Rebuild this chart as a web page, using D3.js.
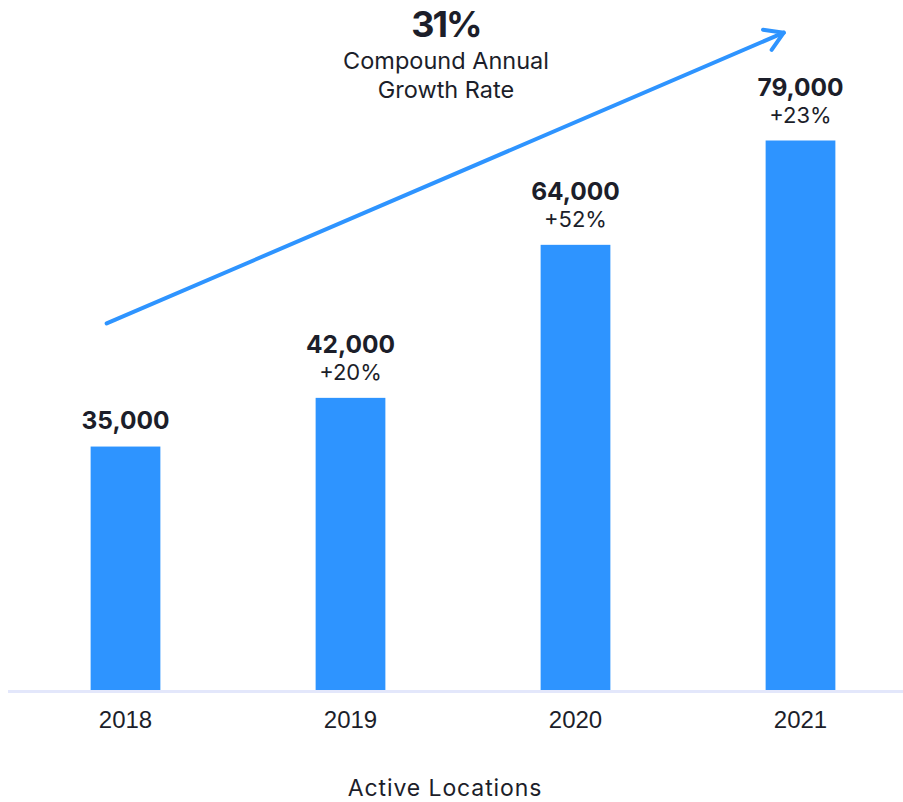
<!DOCTYPE html>
<html>
<head>
<meta charset="utf-8">
<script src="https://cdn.jsdelivr.net/npm/d3@7/dist/d3.min.js"></script>
<style>
  html, body { margin: 0; padding: 0; background: #ffffff; }
  svg { display: block; font-family: Inter, "Noto Sans", sans-serif; }
</style>
</head>
<body>
<svg id="chart" width="903" height="802"></svg>
<script>
// Active locations per year
const years = ["2018", "2019", "2020", "2021"];
const locations = [35000, 42000, 64000, 79000];
const growthLabels = ["", "+20%", "+52%", "+23%"];

// Headline annotation
const cagrValue = "31%";
const cagrCaption = ["Compound Annual", "Growth Rate"];
const axisTitle = "Active Locations";

// Trend arrow anchors, in data space (band, fraction across band, value)
const arrowFrom = { year: "2018", frac: 0.23, value: 52700 };
const arrowTo = { year: "2021", frac: 0.26, value: 94500 };

const W = 903, H = 802;
const baseY = 690;
const barColor = "#2e94ff";
const textColor = "#1c1e2a";

const svg = d3.select("#chart");

const x = d3.scaleBand()
  .domain(years)
  .range([13, 913])
  .paddingInner(0.69)
  .paddingOuter(0.345);

const y = d3.scaleLinear()
  .domain([0, 79000])
  .range([baseY, 140.5]);

const data = years.map((yr, i) => ({ year: yr, value: locations[i], growth: growthLabels[i] }));

// Bars
svg.append("g")
  .selectAll("rect")
  .data(data)
  .join("rect")
  .attr("x", d => x(d.year))
  .attr("y", d => y(d.value))
  .attr("width", x.bandwidth())
  .attr("height", d => y(0) - y(d.value))
  .attr("fill", barColor);

// Baseline
svg.append("line")
  .attr("x1", 8).attr("x2", W)
  .attr("y1", baseY + 1.5).attr("y2", baseY + 1.5)
  .attr("stroke", "#e3e7fb")
  .attr("stroke-width", 3);

// Year axis
const xAxis = d3.axisBottom(x).tickSize(0).tickPadding(0);
const gx = svg.append("g")
  .attr("transform", `translate(0,${baseY})`)
  .call(xAxis);
gx.select(".domain").remove();
gx.selectAll("text")
  .attr("y", 38)
  .attr("dy", 0)
  .attr("fill", textColor)
  .style("font-family", "'Liberation Sans', Arial, sans-serif")
  .style("font-size", "24px");

// Value labels
const labels = svg.append("g").attr("text-anchor", "middle").attr("fill", textColor);
labels.selectAll("text.value")
  .data(data)
  .join("text")
  .attr("class", "value")
  .attr("x", d => x(d.year) + x.bandwidth() / 2)
  .attr("y", d => y(d.value) - (d.growth ? 45 : 18))
  .style("font-size", "24.5px")
  .style("font-weight", 700)
  .text(d => d3.format(",")(d.value));

labels.selectAll("text.growth")
  .data(data.filter(d => d.growth))
  .join("text")
  .attr("class", "growth")
  .attr("x", d => x(d.year) + x.bandwidth() / 2)
  .attr("y", d => y(d.value) - 18)
  .style("font-size", "22px")
  .text(d => d.growth);

// Trend arrow
const ax0 = x(arrowFrom.year) + x.bandwidth() * arrowFrom.frac;
const ay0 = y(arrowFrom.value);
const ax1 = x(arrowTo.year) + x.bandwidth() * arrowTo.frac;
const ay1 = y(arrowTo.value);
const ang = Math.atan2(ay1 - ay0, ax1 - ax0);
const head = 21, spread = 0.55;
const arrow = svg.append("g")
  .attr("fill", "none")
  .attr("stroke", barColor)
  .attr("stroke-width", 4)
  .attr("stroke-linecap", "round")
  .attr("stroke-linejoin", "round");
arrow.append("line")
  .attr("x1", ax0).attr("y1", ay0)
  .attr("x2", ax1).attr("y2", ay1);
arrow.append("path")
  .attr("d", d3.line()([
    [ax1 - head * Math.cos(ang - spread), ay1 - head * Math.sin(ang - spread)],
    [ax1, ay1],
    [ax1 - head * Math.cos(ang + spread), ay1 - head * Math.sin(ang + spread)]
  ]));

// CAGR headline
const head1 = svg.append("g").attr("text-anchor", "middle").attr("fill", textColor);
head1.append("text")
  .attr("x", 446).attr("y", 37)
  .style("font-size", "36px")
  .style("font-weight", 700)
  .style("letter-spacing", "-2px")
  .text(cagrValue);
head1.selectAll("text.cap")
  .data(cagrCaption)
  .join("text")
  .attr("class", "cap")
  .attr("x", 446)
  .attr("y", (d, i) => 69 + i * 29)
  .style("font-size", "23.5px")
  .text(d => d);

// Axis title
svg.append("text")
  .attr("x", 445).attr("y", 796)
  .attr("text-anchor", "middle")
  .attr("fill", textColor)
  .style("font-size", "23px")
  .style("letter-spacing", "0.9px")
  .text(axisTitle);
</script>
</body>
</html>
